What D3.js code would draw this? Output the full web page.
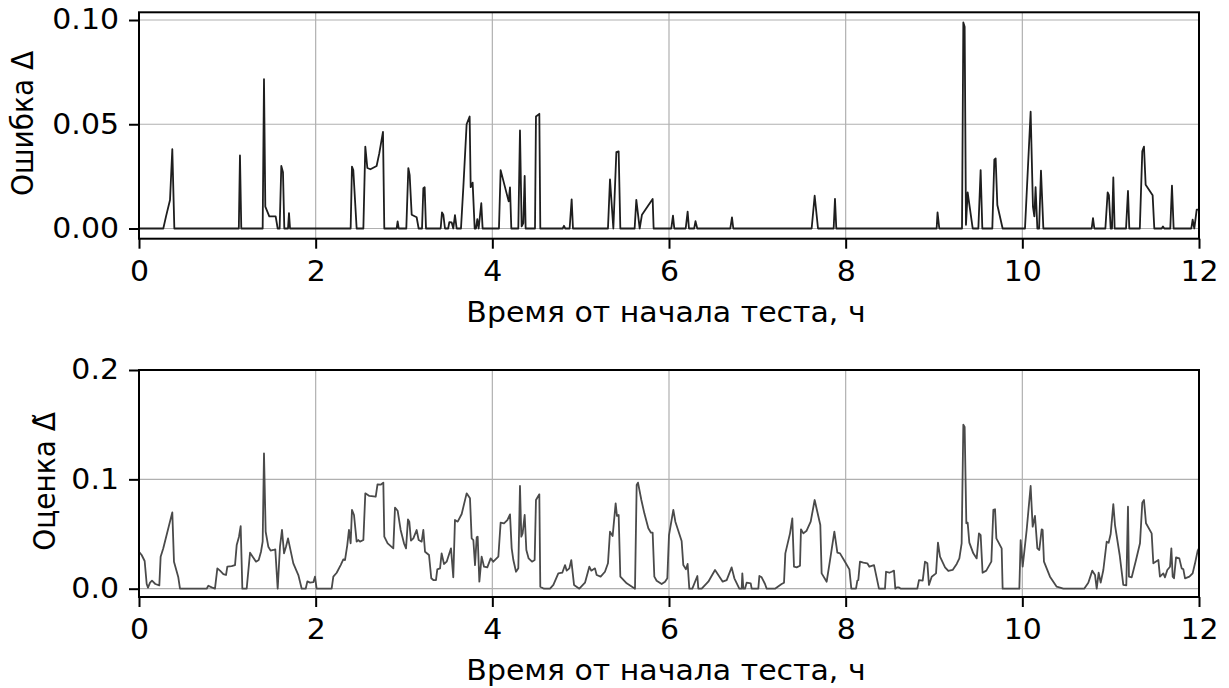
<!DOCTYPE html>
<html>
<head>
<meta charset="utf-8">
<script src="https://cdn.jsdelivr.net/npm/d3@7"></script>
<style>
  html, body { margin: 0; padding: 0; background: #fff; }
  svg { display: block; font-family: "DejaVu Sans", sans-serif; }
  .tick text { font-size: 28px; fill: #000; }
  .grid line { stroke: #b0b0b0; stroke-width: 1.2; }
</style>
</head>
<body>
<svg id="chart" width="1229" height="688"></svg>
<script>
// Error Δ over the test (hours → value)
const errTime = [
  0, 0.275, 0.306, 0.351, 0.377, 0.40,
  1.13, 1.143, 1.158,
  1.40, 1.415, 1.43, 1.475, 1.547, 1.57,
  1.592, 1.611, 1.63, 1.645,
  1.687, 1.698, 1.71,
  2.396, 2.411, 2.426, 2.464,
  2.54, 2.562, 2.585, 2.62, 2.69, 2.72, 2.762, 2.777,
  2.917, 2.928, 2.94,
  3.026, 3.049, 3.064, 3.087, 3.143, 3.166,
  3.204, 3.219, 3.234, 3.249,
  3.415, 3.43, 3.445, 3.464,
  3.50, 3.513, 3.54, 3.558, 3.577, 3.596,
  3.645, 3.672, 3.709, 3.743, 3.755, 3.777, 3.80,
  3.815, 3.83, 3.845, 3.875, 3.89,
  4.075, 4.094, 4.185, 4.2, 4.215,
  4.294, 4.313, 4.332, 4.351, 4.366, 4.377,
  4.483, 4.494, 4.532, 4.543,
  4.796, 4.811, 4.826, 4.875, 4.898, 4.913,
  5.309, 5.332, 5.37, 5.404, 5.43, 5.449,
  5.611, 5.630, 5.668, 5.694, 5.815, 5.826,
  6.026, 6.045, 6.06,
  6.189, 6.211, 6.226,
  6.285, 6.30, 6.32,
  6.694, 6.713, 6.728,
  7.615, 7.649, 7.687,
  7.864, 7.879, 7.894,
  9.03, 9.04, 9.06,
  9.317, 9.332, 9.347, 9.362, 9.381, 9.438,
  9.502, 9.528, 9.547,
  9.66, 9.683, 9.698, 9.717, 9.777,
  10.03, 10.094, 10.12, 10.136, 10.15, 10.17, 10.19, 10.211, 10.238,
  10.785, 10.8, 10.815,
  10.94, 10.966, 10.98, 11.0, 11.015, 11.03, 11.045,
  11.174, 11.196, 11.211,
  11.33, 11.358, 11.377, 11.396, 11.475, 11.494,
  11.577, 11.592, 11.607,
  11.675, 11.694, 11.713,
  11.913, 11.928, 11.947, 11.974, 12
];
const errValue = [
  0, 0, 0.0058, 0.0137, 0.038, 0,
  0, 0.035, 0,
  0, 0.0716, 0.0105, 0.0058, 0.0058, 0,
  0, 0.030, 0.027, 0,
  0, 0.0074, 0,
  0, 0.0297, 0.028, 0,
  0, 0.0393, 0.029, 0.0284, 0.030, 0.036, 0.0463, 0,
  0, 0.0034, 0,
  0, 0.029, 0.0257, 0.0066, 0.0054, 0,
  0, 0.0193, 0.0198, 0,
  0, 0.0077, 0.0066, 0,
  0, 0.003, 0.0029, 0, 0.0064, 0,
  0, 0.020, 0.050, 0.0537, 0.0198, 0.022, 0,
  0, 0.0045, 0, 0.0121, 0,
  0, 0.028, 0.013, 0.0197, 0,
  0, 0.047, 0.001, 0.0026, 0.0252, 0,
  0, 0.0537, 0.055, 0,
  0, 0.0013, 0, 0, 0.014, 0,
  0, 0.0236, 0, 0.0366, 0.037, 0,
  0, 0.0137, 0, 0.0066, 0.0142, 0,
  0, 0.0062, 0,
  0, 0.0081, 0,
  0, 0.0035, 0,
  0, 0.0053, 0,
  0, 0.0157, 0,
  0, 0.0142, 0,
  0, 0.0077, 0,
  0, 0.0988, 0.0968, 0.0018, 0.0173, 0,
  0, 0.028, 0,
  0, 0.033, 0.0336, 0.0113, 0,
  0, 0.056, 0.0105, 0.0058, 0.0198, 0, 0, 0.0278, 0,
  0, 0.005, 0,
  0, 0.0173, 0.016, 0, 0, 0.0245, 0,
  0, 0.018, 0,
  0, 0.037, 0.0393, 0.021, 0.016, 0,
  0, 0.001, 0,
  0, 0.0206, 0,
  0, 0.0042, 0, 0.009, 0.009
];

// Estimate Δ̃ over the test
const estTime = [
  0, 0.03, 0.064, 0.087, 0.102, 0.125, 0.147, 0.185, 0.23, 0.245, 0.275, 0.377, 0.396, 0.445, 0.464,
  0.766, 0.785, 0.823, 0.86, 0.887, 0.917, 0.955, 0.985, 1.0, 1.049, 1.087, 1.106, 1.132, 1.151, 1.17,
  1.219, 1.257, 1.287, 1.325, 1.355, 1.381, 1.40, 1.415, 1.434, 1.464, 1.49, 1.521, 1.543, 1.57,
  1.596, 1.619, 1.642, 1.664, 1.687, 1.747, 1.804, 1.842, 1.887, 1.906, 1.936, 1.974, 1.992, 2.011,
  2.181, 2.2, 2.238, 2.283, 2.313, 2.332, 2.358, 2.377, 2.396, 2.411, 2.434, 2.464, 2.483, 2.502, 2.54,
  2.562, 2.608, 2.68, 2.70, 2.736, 2.766, 2.777, 2.815, 2.879, 2.898, 2.928, 2.962, 3.0, 3.023,
  3.045, 3.06, 3.079, 3.106, 3.143, 3.166, 3.2, 3.219, 3.238, 3.283, 3.309, 3.332, 3.362, 3.377,
  3.408, 3.426, 3.453, 3.483, 3.532, 3.558, 3.577, 3.608, 3.653, 3.709, 3.747, 3.766, 3.785, 3.804,
  3.823, 3.834, 3.853, 3.879, 3.906, 3.943, 3.981, 4.011, 4.068,
  4.094, 4.132, 4.17, 4.2, 4.219, 4.238, 4.268, 4.294, 4.313, 4.328, 4.343, 4.366, 4.385, 4.411,
  4.449, 4.479, 4.494, 4.532, 4.543, 4.585, 4.653, 4.691, 4.747, 4.792, 4.823, 4.842, 4.872, 4.894,
  4.925, 4.985, 5.049, 5.098, 5.12, 5.162, 5.181, 5.226, 5.275, 5.309, 5.332, 5.362, 5.396, 5.411,
  5.43, 5.449, 5.521, 5.615, 5.634, 5.649, 5.687, 5.721, 5.766, 5.796, 5.815, 5.834, 5.86, 5.917,
  5.955, 5.981, 6.0, 6.049, 6.072, 6.143, 6.162, 6.192, 6.211, 6.23, 6.264, 6.321, 6.332, 6.37,
  6.445, 6.521, 6.547, 6.608, 6.653, 6.709, 6.74, 6.796, 6.823, 6.83, 6.842, 6.86, 6.879, 6.925,
  6.936, 7.011, 7.023, 7.049, 7.087, 7.106, 7.2, 7.275, 7.302, 7.317, 7.37, 7.396, 7.415, 7.445,
  7.483, 7.494, 7.521, 7.558, 7.604, 7.649, 7.713, 7.728, 7.785, 7.823, 7.872, 7.906, 7.936, 7.992,
  8.042, 8.064, 8.117, 8.132, 8.143, 8.162, 8.2, 8.245, 8.268, 8.321, 8.377, 8.445, 8.457, 8.494,
  8.521, 8.547, 8.562, 8.58, 8.6, 8.626, 8.811, 8.83, 8.872, 8.898, 8.925, 8.943, 8.974, 9.023,
  9.045, 9.068, 9.125, 9.162, 9.211, 9.257, 9.287, 9.313, 9.332, 9.347, 9.366, 9.381, 9.4, 9.445,
  9.483, 9.509, 9.528, 9.55, 9.592, 9.649, 9.672, 9.691, 9.706, 9.766, 9.777, 9.966, 9.981, 10.004,
  10.049, 10.094, 10.117, 10.143, 10.17, 10.192, 10.219, 10.23, 10.245, 10.313, 10.389, 10.464,
  10.7, 10.747, 10.792, 10.823, 10.842, 10.864, 10.887, 10.917, 10.955, 10.977, 11.0, 11.03,
  11.049, 11.102, 11.143, 11.177, 11.196, 11.207, 11.238, 11.287, 11.332, 11.358, 11.377, 11.4,
  11.464, 11.483, 11.54, 11.558, 11.596, 11.615, 11.641, 11.672, 11.687, 11.702, 11.717, 11.74,
  11.777, 11.804, 11.823, 11.842, 11.891, 11.928, 11.955, 11.985, 12
];
const estValue = [
  0.0338, 0.0308, 0.0253, 0.0043, 0.001, 0.0055, 0.0073, 0.0043, 0.003, 0.0293, 0.0369, 0.0698, 0.0247, 0.0104, 0,
  0, 0.0027, 0.0012, 0, 0.0186, 0.0165, 0.0134, 0.0125, 0.0201, 0.0207, 0.0216, 0.0399, 0.0476, 0.0573, 0,
  0, 0.0329, 0.0293, 0.0247, 0.0262, 0.0338, 0.043, 0.1238, 0.0521, 0.0384, 0.0348, 0.0354, 0.036, 0,
  0.0384, 0.0537, 0.0323, 0.0384, 0.046, 0.0232, 0.0125, 0, 0, 0.0067, 0.0055, 0.006, 0.011, 0,
  0, 0.011, 0.0146, 0.0216, 0.0268, 0.0262, 0.0399, 0.0537, 0.0415, 0.072, 0.0674, 0.043, 0.0445, 0.043, 0.0445,
  0.0872, 0.0848, 0.0841, 0.0954, 0.0951, 0.097, 0.0476, 0.0415, 0.0369, 0.0741, 0.0713, 0.0537, 0.0415, 0.0369,
  0.0634, 0.0613, 0.0439, 0.046, 0.0537, 0.0445, 0.043, 0.0537, 0.0338, 0.0308, 0.0095, 0.0079, 0.0079, 0.0177,
  0.0186, 0.0323, 0.0226, 0.0247, 0.0369, 0.0104, 0.0628, 0.0613, 0.0683, 0.0872, 0.0826, 0.046, 0.0445, 0.0216,
  0.047, 0.0476, 0.0064, 0.0293, 0.0201, 0.0195, 0.0277, 0.0247, 0.0293,
  0.0604, 0.0598, 0.0628, 0.068, 0.0369, 0.0262, 0.0155, 0.0186, 0.0939, 0.0476, 0.0506, 0.0674, 0.0354, 0.0277,
  0.0247, 0.0262, 0.0811, 0.0863, 0.0018, 0, 0, 0.0034, 0.014, 0.0146, 0.0216, 0.0165, 0.0186, 0.0262,
  0.0034, 0, 0.0055, 0.0201, 0.0165, 0.0186, 0.0125, 0.011, 0.0155, 0.0232, 0.0521, 0.0482, 0.078, 0.0665,
  0.0674, 0.011, 0.0049, 0, 0.0948, 0.097, 0.0811, 0.0689, 0.0552, 0.0512, 0.0512, 0.011, 0.0073, 0.0043,
  0.0064, 0.0095, 0.049, 0.072, 0.0613, 0.0436, 0.0216, 0.0177, 0.0226, 0, 0, 0.0116, 0, 0,
  0.0064, 0.0171, 0.014, 0.0064, 0.0079, 0.0195, 0.0095, 0, 0, 0.014, 0, 0, 0.0055, 0.0049,
  0, 0, 0.0116, 0.0104, 0.0043, 0, 0, 0.0043, 0.0055, 0.0323, 0.0506, 0.0643, 0.0201, 0.0195,
  0.021, 0.0543, 0.0506, 0.053, 0.0613, 0.0811, 0.0582, 0.014, 0.0064, 0.0262, 0.0521, 0.0329, 0.0323, 0.0247,
  0.0177, 0, 0, 0.0073, 0.0079, 0.0247, 0.0238, 0.0232, 0.0201, 0.0216, 0, 0, 0.0155, 0.0146,
  0.0155, 0.0165, 0, 0.0012, 0.0012, 0, 0, 0.0079, 0.0073, 0.0247, 0.0232, 0.0034, 0.011, 0.014,
  0.0421, 0.0293, 0.0195, 0.0162, 0.0171, 0.0226, 0.0277, 0.0415, 0.150, 0.148, 0.0598, 0.0604, 0.0421, 0.0323,
  0.0277, 0.0506, 0.049, 0.0146, 0.0165, 0.0247, 0.072, 0.0726, 0.046, 0.0369, 0, 0, 0.0445, 0.0201,
  0.0537, 0.0939, 0.0567, 0.0665, 0.0369, 0.0354, 0.0543, 0.0537, 0.0247, 0.011, 0.0018, 0,
  0, 0.0055, 0.0165, 0.0125, 0, 0.0146, 0.0055, 0.0171, 0.043, 0.042, 0.05, 0.0774,
  0.0582, 0.0308, 0.0034, 0.0031, 0.075, 0.011, 0.0104, 0.0262, 0.0415, 0.0787, 0.0811, 0.0598,
  0.0506, 0.0232, 0.0262, 0.011, 0.014, 0.0104, 0.0171, 0.0201, 0.0369, 0.011, 0.0095, 0.0287,
  0.0277, 0.0186, 0.0177, 0.0095, 0.011, 0.014, 0.0232, 0.0348, 0.037
];

const errTicks = [0, 0.05, 0.10];
const estTicks = [0, 0.1, 0.2];
const timeTicks = [0, 2, 4, 6, 8, 10, 12];
const xLabel = "Время от начала теста, ч";

const svg = d3.select("#chart");
const left = 139, right = 1199;
const FONT = 28;
const SX = 1.07;   // horizontal glyph widening of all text

// widen text horizontally about its own anchor point
function widen(sel) {
  sel.each(function () {
    const t = d3.select(this);
    const x = +t.attr("x") || 0;
    t.attr("transform", `translate(${x},0) scale(${SX},1) translate(${-x},0)`);
  });
}

function panel(cfg) {
  const x = d3.scaleLinear().domain([0, 12]).range([left, right]);
  const y = d3.scaleLinear().domain(cfg.yDomain).range([cfg.bottom, cfg.top]);
  const g = svg.append("g");

  // grid
  const grid = g.append("g").attr("class", "grid");
  grid.selectAll("line.gx").data(timeTicks).join("line")
    .attr("class", "gx")
    .attr("x1", d => x(d)).attr("x2", d => x(d))
    .attr("y1", cfg.top).attr("y2", cfg.bottom);
  grid.selectAll("line.gy").data(cfg.yTicks).join("line")
    .attr("class", "gy")
    .attr("x1", left).attr("x2", right)
    .attr("y1", d => y(d)).attr("y2", d => y(d));

  // series
  const pts = cfg.xs.map((t, i) => [t, cfg.ys[i]]);
  g.append("path")
    .datum(pts)
    .attr("fill", "none")
    .attr("stroke", cfg.color)
    .attr("stroke-width", 1.8)
    .attr("stroke-linejoin", "round")
    .attr("d", d3.line().x(d => x(d[0])).y(d => y(d[1])));

  // frame
  g.append("rect")
    .attr("x", left).attr("y", cfg.top)
    .attr("width", right - left).attr("height", cfg.bottom - cfg.top)
    .attr("fill", "none").attr("stroke", "#000").attr("stroke-width", 2);

  // axes
  const xa = g.append("g").attr("transform", `translate(0,${cfg.bottom})`)
    .call(d3.axisBottom(x).tickValues(timeTicks).tickFormat(d3.format("d"))
      .tickSize(10).tickPadding(12).tickSizeOuter(0));
  const ya = g.append("g").attr("transform", `translate(${left},0)`)
    .call(d3.axisLeft(y).tickValues(cfg.yTicks).tickFormat(cfg.fmt)
      .tickSize(10).tickPadding(10).tickSizeOuter(0));
  [xa, ya].forEach(a => {
    a.select(".domain").remove();
    a.selectAll(".tick line").attr("stroke", "#000").attr("stroke-width", 2);
    a.selectAll(".tick text").attr("font-family", "DejaVu Sans").call(widen);
  });

  // labels
  g.append("text")
    .attr("x", (left + right) / 2 - 3).attr("y", cfg.bottom + 83)
    .attr("text-anchor", "middle").attr("font-size", FONT).attr("fill", "#000")
    .text(xLabel)
    .call(widen);
  g.append("text")
    .attr("transform", `translate(${cfg.yLabelX},${(cfg.top + cfg.bottom) / 2 - 2}) rotate(-90) scale(1,${SX})`)
    .attr("text-anchor", "middle").attr("font-size", FONT).attr("fill", "#000")
    .text(cfg.yLabel);
}

panel({
  top: 12.3, bottom: 238.7, yDomain: [-0.0049, 0.1037],
  yTicks: errTicks, fmt: d3.format(".2f"),
  xs: errTime, ys: errValue, color: "#1e1e1e",
  yLabel: "Ошибка Δ", yLabelX: 33
});
panel({
  top: 370, bottom: 597, yDomain: [-0.0076, 0.2],
  yTicks: estTicks, fmt: d3.format(".1f"),
  xs: estTime, ys: estValue, color: "#4a4a4a",
  yLabel: "Оценка Δ\u0303", yLabelX: 55
});
</script>
</body>
</html>
